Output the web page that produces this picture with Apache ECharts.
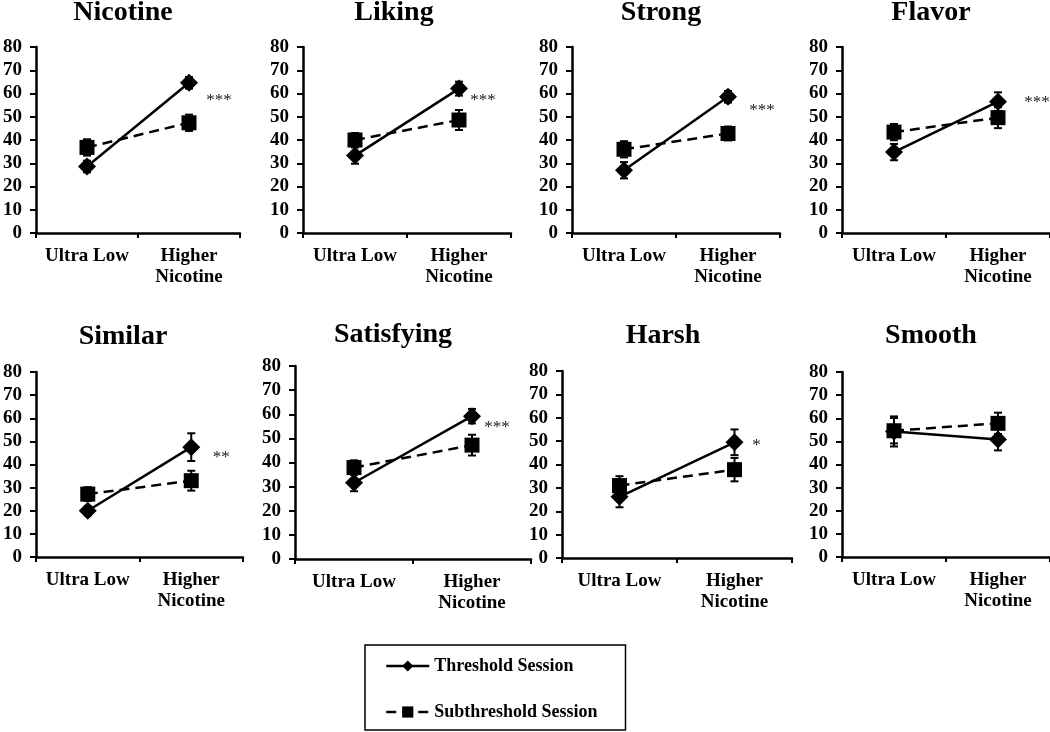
<!DOCTYPE html>
<html>
<head>
<meta charset="utf-8">
<script src="https://cdn.jsdelivr.net/npm/echarts@6/dist/echarts.min.js"></script>
<style>html,body{margin:0;padding:0;background:#fff}#c{width:1050px;height:732px}</style>
</head>
<body>
<div id="c"></div>
<script>
// ---------- data ----------
const categories = ['Ultra Low', 'Higher\nNicotine'];
const panelNames = ['Nicotine', 'Liking', 'Strong', 'Flavor', 'Similar', 'Satisfying', 'Harsh', 'Smooth'];
const seriesNames = ['Threshold Session', 'Subthreshold Session'];
const thresholdMean = [[28.6, 64.6], [33.3, 62.1], [27.0, 58.6], [34.8, 56.5], [20.0, 47.5], [31.6, 59.2], [26.2, 49.5], [54.3, 50.8]];
const thresholdErr  = [[2.5, 2.5], [3.5, 3.0], [3.5, 2.5], [3.5, 4.0], [2.0, 6.0], [3.5, 3.0], [4.5, 5.5], [6.5, 4.7]];
const subMean       = [[36.8, 47.4], [40.0, 48.6], [36.0, 42.8], [43.4, 49.6], [27.2, 33.0], [37.9, 47.2], [31.0, 37.8], [54.6, 57.8]];
const subErr        = [[3.5, 3.5], [3.0, 4.3], [3.5, 3.0], [3.5, 4.5], [3.0, 4.3], [3.0, 4.3], [4.0, 5.0], [5.5, 4.6]];
const sigLabels = ['***', '***', '***', '***', '**', '***', '*', ''];
const sigLevel  = [57, 57, 52.5, 56, 43, 54.3, 48, null];
const yMin = 0, yMax = 80, yStep = 10;

// ---------- layout ----------
const grids = [
  {left: 33,  top: 47,  width: 207, height: 186},
  {left: 303, top: 47,  width: 208, height: 186},
  {left: 572, top: 47,  width: 208, height: 186},
  {left: 842, top: 47,  width: 208, height: 186},
  {left: 33,  top: 372, width: 210, height: 185},
  {left: 295, top: 366, width: 236, height: 193},
  {left: 562, top: 371, width: 230, height: 187},
  {left: 842, top: 372, width: 208, height: 185}
];
const titlePos = [[123, 13], [394, 13], [661, 13], [931, 13], [123, 337], [393, 335], [663, 336], [931, 336]];
const sigOffset = [30, 24, 34, 39, 30, 25, 22, 0];

const FONT = '"Liberation Serif", "Times New Roman", serif';
const chart = echarts.init(document.getElementById('c'), null, {renderer: 'canvas'});

function errData(means, errs) {
  return means.map((m, i) => [i, m, m + errs[i], m - errs[i]]);
}
function renderErr(params, api) {
  const top = api.coord([api.value(0), api.value(2)]);
  const bot = api.coord([api.value(0), api.value(3)]);
  const cap = 4;
  const st = {stroke: '#000', lineWidth: 2};
  return {type: 'group', children: [
    {type: 'line', shape: {x1: top[0], y1: top[1], x2: bot[0], y2: bot[1]}, style: st},
    {type: 'line', shape: {x1: top[0] - cap, y1: top[1], x2: top[0] + cap, y2: top[1]}, style: st},
    {type: 'line', shape: {x1: bot[0] - cap, y1: bot[1], x2: bot[0] + cap, y2: bot[1]}, style: st}
  ]};
}

const xAxes = [], yAxes = [], series = [], graphics = [];
grids.forEach((g, i) => {
  xAxes.push({
    type: 'category', gridIndex: i, data: categories, boundaryGap: true,
    axisLine: {show: true, lineStyle: {color: '#000', width: 2.5}},
    axisTick: {show: true, length: 5, lineStyle: {color: '#000', width: 2}},
    axisLabel: {interval: 0, color: '#000', fontFamily: FONT, fontWeight: 'bold', fontSize: 19, lineHeight: 21, margin: 13},
    splitLine: {show: false}
  });
  yAxes.push({
    type: 'value', gridIndex: i, min: yMin, max: yMax, interval: yStep,
    axisLine: {show: true, lineStyle: {color: '#000', width: 2.5}},
    axisTick: {show: true, length: 6, lineStyle: {color: '#000', width: 2}},
    axisLabel: {color: '#000', fontFamily: FONT, fontWeight: 'bold', fontSize: 19, margin: 14},
    splitLine: {show: false}
  });
  series.push({
    name: 'errT' + i, type: 'custom', xAxisIndex: i, yAxisIndex: i, z: 1,
    renderItem: renderErr, data: errData(thresholdMean[i], thresholdErr[i]), silent: true
  });
  series.push({
    name: 'errS' + i, type: 'custom', xAxisIndex: i, yAxisIndex: i, z: 1,
    renderItem: renderErr, data: errData(subMean[i], subErr[i]), silent: true
  });
  const tSeries = {
    name: seriesNames[0], type: 'line', xAxisIndex: i, yAxisIndex: i, z: 3,
    data: thresholdMean[i], symbol: 'diamond', symbolSize: [18, 18],
    lineStyle: {color: '#000', width: 2.5, type: 'solid'},
    itemStyle: {color: '#000', borderWidth: 0}
  };
  if (sigLabels[i]) {
    tSeries.markPoint = {
      symbol: 'rect', symbolSize: 1, itemStyle: {color: 'rgba(0,0,0,0)'},
      label: {show: true, position: 'inside', offset: [sigOffset[i], 0], formatter: sigLabels[i],
              color: '#222', fontFamily: FONT, fontSize: 17, fontWeight: 'normal'},
      data: [{coord: [1, sigLevel[i]]}]
    };
  }
  series.push(tSeries);
  series.push({
    name: seriesNames[1], type: 'line', xAxisIndex: i, yAxisIndex: i, z: 2,
    data: subMean[i], symbol: 'rect', symbolSize: [15, 15],
    lineStyle: {color: '#000', width: 2.5, type: [10, 6]},
    itemStyle: {color: '#000', borderWidth: 0}
  });
  graphics.push({
    type: 'text', x: titlePos[i][0], y: titlePos[i][1],
    style: {text: panelNames[i], fill: '#000', font: 'bold 28px ' + FONT, textAlign: 'center', textVerticalAlign: 'middle'}
  });
});

chart.setOption({
  animation: false,
  backgroundColor: '#fff',
  grid: grids,
  xAxis: xAxes,
  yAxis: yAxes,
  series: series,
  graphic: graphics,
  legend: {
    data: seriesNames, orient: 'vertical', left: 365, top: 645,
    borderColor: '#000', borderWidth: 1.5, borderRadius: 0,
    padding: [11, 28, 8, 20], itemGap: 26, itemWidth: 43, itemHeight: 14,
    selectedMode: false,
    lineStyle: {width: 2.5},
    textStyle: {color: '#000', fontFamily: FONT, fontWeight: 'bold', fontSize: 18, lineHeight: 20}
  }
});
</script>
</body>
</html>
